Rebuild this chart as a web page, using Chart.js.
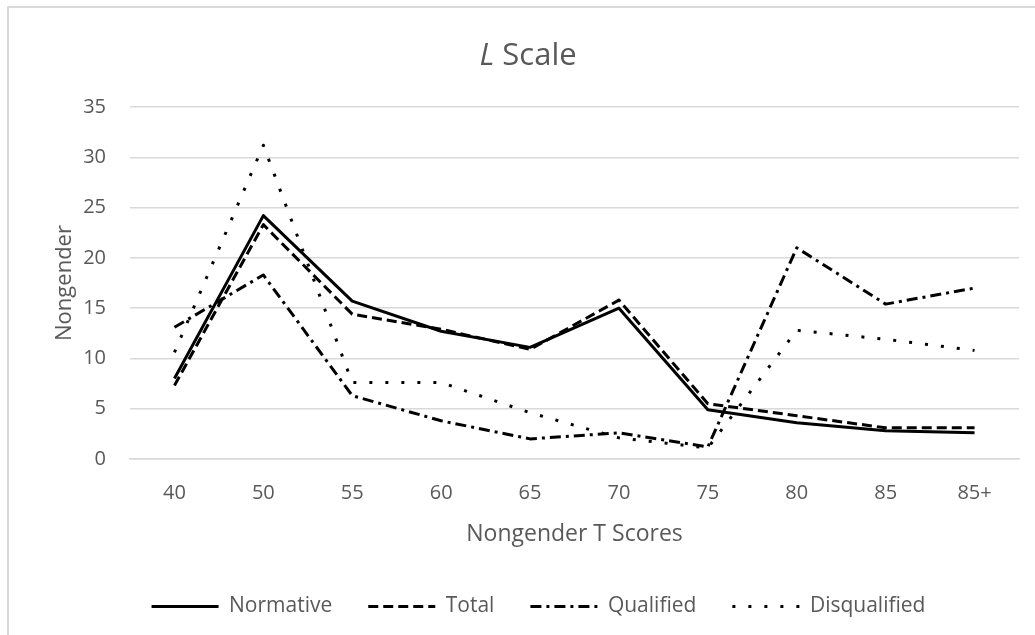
<!DOCTYPE html>
<html>
<head>
<meta charset="utf-8">
<script src="https://cdn.jsdelivr.net/npm/chart.js@4"></script>
<style>
    body { margin: 0; background: #fff; }
    #frame {
        position: absolute; left: 7px; top: 6px; width: 1100px; height: 700px;
        border-left: 2px solid #d9d9d9; border-top: 2px solid #d9d9d9;
    }
    #wrap { position: absolute; left: 0; top: 0; width: 1035px; height: 635px; }
</style>
</head>
<body>
<div id="frame"></div>
<div id="wrap"><canvas id="chart"></canvas></div>
<script>
    // values
    const categories = ['40', '50', '55', '60', '65', '70', '75', '80', '85', '85+'];
    const normative = [8.0, 24.2, 15.7, 12.7, 11.1, 15.0, 4.9, 3.6, 2.8, 2.6];
    const total = [7.3, 23.3, 14.4, 12.9, 10.9, 15.8, 5.5, 4.3, 3.1, 3.1];
    const qualified = [13.1, 18.3, 6.3, 3.8, 2.0, 2.6, 1.2, 21.0, 15.4, 17.0];
    const disqualified = [10.6, 31.2, 7.6, 7.6, 4.6, 2.1, 1.1, 12.8, 11.9, 10.8];
    const yTicks = [0, 5, 10, 15, 20, 25, 30, 35];

    const textColor = '#595959';
    const gridColor = '#d9d9d9';
    const fontFamily = '"Open Sans", "Noto Sans", sans-serif';

    // title with italic "L" followed by regular " Scale"
    const titlePlugin = {
        id: 'mixedTitle',
        afterDraw(chart) {
            const ctx = chart.ctx;
            ctx.save();
            ctx.fillStyle = textColor;
            ctx.textBaseline = 'middle';
            ctx.font = 'italic 31px ' + fontFamily;
            const w1 = ctx.measureText('L').width;
            ctx.font = '31px ' + fontFamily;
            const w2 = ctx.measureText(' Scale').width;
            let x = 528 - (w1 + w2) / 2;
            ctx.font = 'italic 31px ' + fontFamily;
            ctx.fillText('L', x, 56);
            ctx.font = '31px ' + fontFamily;
            ctx.fillText(' Scale', x + w1, 56);
            ctx.restore();
        }
    };

    // nudge the legend so it sits where the reference puts it
    const legendShift = {
        id: 'legendShift',
        afterLayout(chart) {
            chart.legend.left += 29;
            chart.legend.right += 29;
            chart.legend.top += 2;
            chart.legend.bottom += 2;
        }
    };

    const makeSet = (label, data, dash) => ({
        label,
        data,
        borderColor: '#000',
        backgroundColor: '#000',
        borderWidth: 3,
        borderDash: dash,
        borderJoinStyle: 'round',
        pointRadius: 0,
        tension: 0,
    });

    const ctx = document.getElementById('chart').getContext('2d');
    new Chart(ctx, {
        type: 'line',
        data: {
            labels: categories,
            datasets: [
                makeSet('Normative', normative, []),
                makeSet('Total', total, [10, 5]),
                makeSet('Qualified', qualified, [11, 5, 3, 5]),
                makeSet('Disqualified', disqualified, [3, 13]),
            ],
        },
        options: {
            responsive: true,
            maintainAspectRatio: false,
            animation: false,
            layout: { padding: { left: 0, right: 16, top: 107, bottom: 10 } },
            plugins: {
                title: { display: false },
                tooltip: { enabled: false },
                legend: {
                    position: 'bottom',
                    maxHeight: 77,
                    labels: {
                        usePointStyle: true,
                        pointStyle: 'line',
                        pointStyleWidth: 67,
                        boxHeight: 20,
                        padding: 36,
                        color: textColor,
                        font: { family: fontFamily, size: 21 },
                        generateLabels(chart) {
                            const items = Chart.defaults.plugins.legend.labels.generateLabels(chart);
                            items.forEach((item) => {
                                const ds = chart.data.datasets[item.datasetIndex];
                                item.lineDash = ds.borderDash;
                                item.lineWidth = ds.borderWidth;
                                item.strokeStyle = ds.borderColor;
                            });
                            return items;
                        },
                    },
                },
            },
            scales: {
                x: {
                    offset: true,
                    grid: { display: false, drawTicks: false },
                    border: { display: true, color: gridColor, width: 1.5 },
                    ticks: { color: textColor, padding: 22, font: { family: fontFamily, size: 20 } },
                    title: {
                        display: true,
                        text: 'Nongender T Scores',
                        color: textColor,
                        font: { family: fontFamily, size: 23 },
                        padding: { top: 0, bottom: 10 },
                    },
                    afterFit(scale) { scale.height = 99; },
                },
                y: {
                    min: 0,
                    max: 35,
                    afterBuildTicks(scale) { scale.ticks = yTicks.map((v) => ({ value: v })); },
                    grid: { color: gridColor, lineWidth: 1.5, drawTicks: false },
                    border: { display: false },
                    ticks: { color: textColor, padding: 24, font: { family: fontFamily, size: 20 } },
                    title: {
                        display: true,
                        text: 'Nongender',
                        color: textColor,
                        font: { family: fontFamily, size: 22 },
                        padding: { top: 52, bottom: 0 },
                    },
                    afterFit(scale) { scale.width = 130; },
                },
            },
        },
        plugins: [titlePlugin, legendShift],
    });
</script>
</body>
</html>
